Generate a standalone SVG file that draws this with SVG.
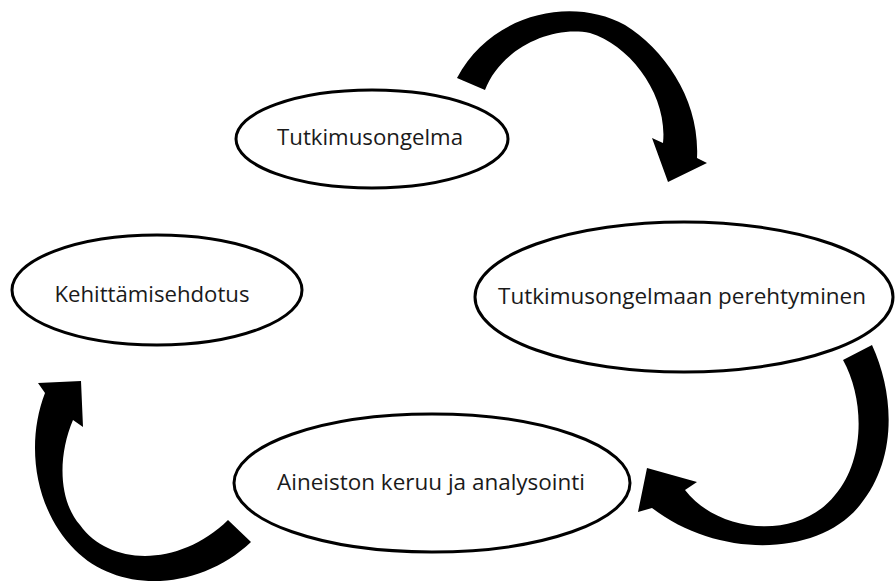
<svg xmlns="http://www.w3.org/2000/svg" width="895" height="585" viewBox="0 0 895 585">
<style>
.node ellipse{fill:#fff;stroke:#000;stroke-width:3}
.node text{font-family:"Open Sans","Noto Sans","Liberation Sans",sans-serif;font-size:22px;fill:#1a1a1a;text-anchor:middle}
.arrow{fill:#000;stroke:none}
</style>
<rect width="895" height="585" fill="#fff"/>
<g id="connectors">
<path class="arrow" d="M457,78 C490,15 570,-5 625,25 C665,50 700,100 697,158 L707,163 L668,182 L652,138 L663,143 C668,95 630,45 590,33 C550,25 500,50 485,90 Z"/>
<path class="arrow" d="M872,345 C895,395 897,460 860,505 C820,556 720,560 652,508 L638,512 L647,468 L697,482 L685,490 C720,535 800,540 835,495 C865,460 865,400 843,360 Z"/>
<path class="arrow" d="M251,542 C200,590 120,595 75,550 C35,510 25,445 45,393 L38,383 L81,381 L83,427 L73,420 C58,455 58,500 80,525 C110,567 180,567 228,520 Z"/>
</g>
<g id="n1" class="node">
<ellipse cx="372" cy="139" rx="136" ry="49"/>
<text x="370" y="145" textLength="186" lengthAdjust="spacingAndGlyphs">Tutkimusongelma</text>
</g>
<g id="n2" class="node">
<ellipse cx="684" cy="297" rx="209" ry="75"/>
<text x="682" y="304" textLength="368" lengthAdjust="spacingAndGlyphs">Tutkimusongelmaan perehtyminen</text>
</g>
<g id="n3" class="node">
<ellipse cx="432" cy="483" rx="198" ry="69"/>
<text x="431" y="490" textLength="308" lengthAdjust="spacingAndGlyphs">Aineiston keruu ja analysointi</text>
</g>
<g id="n4" class="node">
<ellipse cx="157" cy="290" rx="145" ry="55"/>
<text x="152" y="302" textLength="195" lengthAdjust="spacingAndGlyphs">Kehittämisehdotus</text>
</g>
</svg>
